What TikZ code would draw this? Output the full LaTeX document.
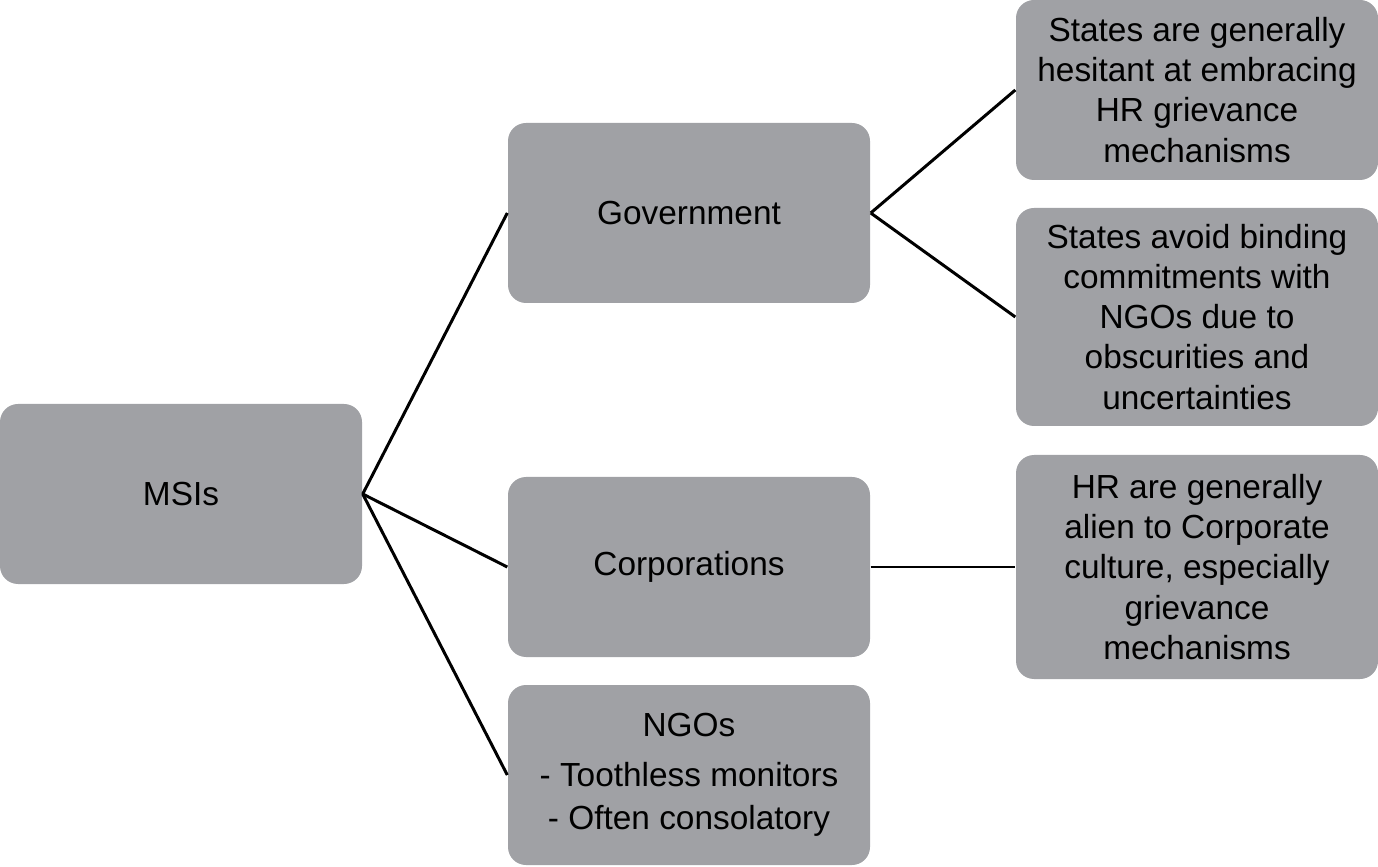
\documentclass[tikz,border=0pt]{standalone}
\usepackage{fontspec}
\setmainfont{Liberation Sans}
\definecolor{boxgray}{HTML}{A0A1A5}

\begin{document}
\begin{tikzpicture}[
  x=1cm,
  y=1cm,
  card/.style={fill=boxgray,rounded corners=0.18cm,minimum width=3.62cm,
    minimum height=1.80cm,align=center,inner sep=0pt,
    font=\fontsize{9.5}{11.4}\selectfont},
  link/.style={black,line width=0.85pt}
]
\useasboundingbox (0,0) rectangle (13.78,8.66);

% Root and actors
\node[card] (msis) at (1.81,3.72) {MSIs};
\node[card] (gov) at (6.89,6.53) {Government};
\node[card] (corp) at (6.89,2.99) {Corporations};
\node[card] (ngos) at (6.89,0.91)
  {NGOs\\[0.28em] - Toothless monitors\\[0.1em] - Often consolatory};

% Obstacles
\node[card] (hesit) at (11.97,7.76)
  {States are generally\\ hesitant at embracing\\ HR grievance\\ mechanisms};
\node[card,minimum height=2.18cm] (binding) at (11.97,5.49)
  {States avoid binding\\ commitments with\\ NGOs due to\\ obscurities and\\ uncertainties};
\node[card,minimum height=2.24cm] (alien) at (11.97,2.99)
  {HR are generally\\ alien to Corporate\\ culture, especially\\ grievance\\ mechanisms};

% Connectors
\draw[link] (msis.east) -- (gov.west);
\draw[link] (msis.east) -- (corp.west);
\draw[link] (msis.east) -- (ngos.west);
\draw[link] (gov.east) -- (hesit.west);
\draw[link] (gov.east) -- (binding.west);
\draw[link] (corp.east) -- (alien.west);

\end{tikzpicture}
\end{document}
